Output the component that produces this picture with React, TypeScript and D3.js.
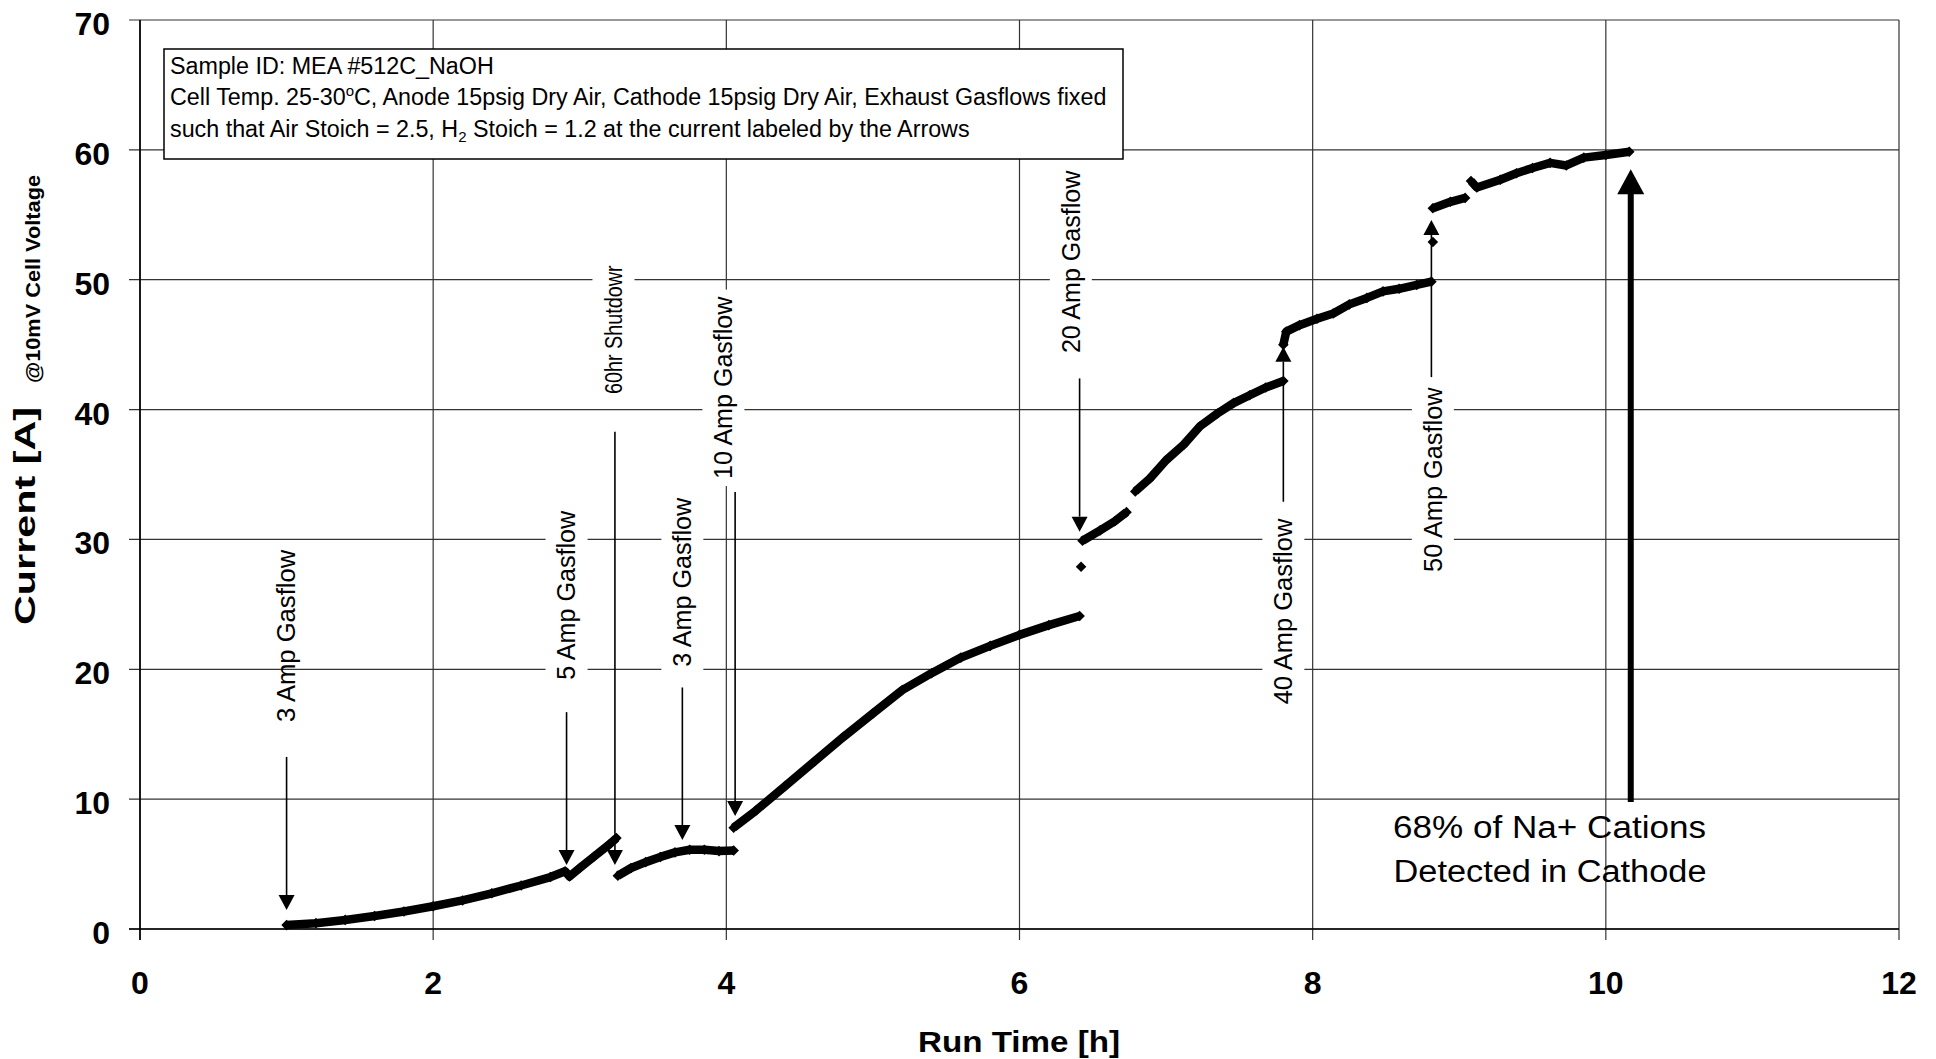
import React from 'react';
import * as d3 from 'd3';

const W = 1936;
const H = 1059;

const xTicks = [0, 2, 4, 6, 8, 10, 12];
const yTicks = [0, 10, 20, 30, 40, 50, 60, 70];

// Run time [h], current [A], one array per continuous run
const seg1: [number, number][] = [
  [1.0, 0.3], [1.2, 0.45], [1.4, 0.7], [1.6, 1.0], [1.8, 1.35], [2.0, 1.75], [2.2, 2.2],
  [2.4, 2.75], [2.6, 3.35], [2.8, 4.0], [2.9, 4.45], [2.93, 4.05], [3.0, 4.7], [3.1, 5.6],
  [3.2, 6.5], [3.25, 7.0],
];
const seg2: [number, number][] = [
  [3.26, 4.1], [3.35, 4.7], [3.45, 5.15], [3.55, 5.55], [3.65, 5.9], [3.75, 6.1], [3.85, 6.1],
  [3.95, 6.0], [4.05, 6.05],
];
const seg3: [number, number][] = [
  [4.05, 7.8], [4.2, 9.1], [4.4, 11.0], [4.6, 12.9], [4.8, 14.8], [5.0, 16.6], [5.2, 18.4],
  [5.4, 19.7], [5.6, 20.9], [5.8, 21.8], [6.0, 22.65], [6.2, 23.4], [6.41, 24.1],
];
const seg4: [number, number][] = [[6.43, 29.9], [6.55, 30.7], [6.65, 31.4], [6.73, 32.1]];
const seg5: [number, number][] = [
  [6.79, 33.7], [6.89, 34.7], [7.0, 36.1], [7.12, 37.3], [7.23, 38.7], [7.35, 39.7],
  [7.46, 40.5], [7.57, 41.1], [7.68, 41.7], [7.8, 42.2],
];
const seg6: [number, number][] = [
  [7.8, 45.0], [7.82, 46.0], [7.91, 46.5], [8.03, 47.0], [8.14, 47.4], [8.25, 48.1],
  [8.37, 48.6], [8.48, 49.1], [8.59, 49.3], [8.71, 49.6], [8.81, 49.85],
];
const seg7: [number, number][] = [[8.82, 55.5], [8.94, 56.0], [9.04, 56.3]];
const seg8: [number, number][] = [
  [9.08, 57.6], [9.12, 57.1], [9.28, 57.7], [9.39, 58.2], [9.5, 58.6], [9.62, 59.0],
  [9.73, 58.8], [9.85, 59.4], [10.0, 59.6], [10.16, 59.85],
];
const singlePoints: [number, number][] = [[6.42, 27.9], [8.82, 52.9]];
const segments = [seg1, seg2, seg3, seg4, seg5, seg6, seg7, seg8];

// Gasflow annotations: arrow at time t from current `from` to current `to`
const annLabels = ['3 Amp Gasflow', '5 Amp Gasflow', '60hr Shutdowr', '3 Amp Gasflow', '10 Amp Gasflow', '20 Amp Gasflow', '40 Amp Gasflow', '50 Amp Gasflow'];
const annT = [1.0, 2.91, 3.24, 3.7, 4.06, 6.41, 7.8, 8.81];
const annFrom = [13.25, 16.7, 38.3, 18.6, 33.65, 42.4, 32.9, 42.5];
const annTo = [1.46, 4.93, 4.93, 6.85, 8.7, 30.6, 44.84, 54.6];
const annLabelT = [1.0, 2.91, 3.23, 3.7, 3.98, 6.35, 7.8, 8.82];
const annLabelBottom = [15.94, 19.2, 41.2, 20.2, 34.65, 44.35, 17.3, 27.5];
const annLabelTop = [29.2, 32.2, 51.1, 33.2, 48.7, 58.4, 31.6, 41.7];
const annBoxed = [false, true, true, true, true, true, true, true];
const annFontSize = [25, 25, 23.5, 25, 25, 25, 25, 25];

const bigArrowT = 10.17;
const bigArrowFrom = 9.78;
const bigArrowTo = 58.5;
const bigText = ['68% of Na+ Cations', 'Detected in Cathode'];

const FONT = '"Liberation Sans", Arial, sans-serif';

export default function App() {
  const x = d3.scaleLinear().domain([0, 12]).range([140, 1899]);
  const y = d3.scaleLinear().domain([0, 70]).range([929, 20]);
  const line = d3.line<[number, number]>().x(d => x(d[0])).y(d => y(d[1]));
  const diamond = d3.symbol().type(d3.symbolSquare).size(56)();

  const allPts = [...segments.flat(), ...singlePoints];

  return (
    <svg width={W} height={H} style={{ position: 'absolute', left: 0, top: 0, background: '#fff' }}
      fontFamily={FONT}>
      <rect x={0} y={0} width={W} height={H} fill="#fff" />
      {/* gridlines */}
      {xTicks.map(t => (
        <line key={'gx' + t} x1={x(t)} x2={x(t)} y1={y(70)} y2={y(0) + 11} stroke="#333" strokeWidth={1.2} />
      ))}
      {yTicks.map(v => (
        <line key={'gy' + v} x1={x(0) - 11} x2={x(12)} y1={y(v)} y2={y(v)} stroke="#333" strokeWidth={1.2} />
      ))}
      <line x1={x(0)} x2={x(0)} y1={y(70)} y2={y(0) + 11} stroke="#000" strokeWidth={1.6} />
      <line x1={x(0) - 11} x2={x(12)} y1={y(0)} y2={y(0)} stroke="#000" strokeWidth={1.6} />

      {/* tick labels */}
      {yTicks.map(v => (
        <text key={'ty' + v} x={110} y={y(v) + 15} textAnchor="end" fontSize={32} fontWeight="bold">{v}</text>
      ))}
      {xTicks.map(t => (
        <text key={'tx' + t} x={x(t)} y={994} textAnchor="middle" fontSize={32} fontWeight="bold">{t}</text>
      ))}

      {/* axis titles */}
      <text x={1019} y={1052} textAnchor="middle" fontSize={30} fontWeight="bold" textLength={202} lengthAdjust="spacingAndGlyphs">Run Time [h]</text>
      <text transform="translate(35,516) rotate(-90)" textAnchor="middle" fontSize={30} fontWeight="bold" textLength={218} lengthAdjust="spacingAndGlyphs">Current [A]</text>
      <text transform="translate(40,279) rotate(-90)" textAnchor="middle" fontSize={20} fontWeight="bold" textLength={208} lengthAdjust="spacingAndGlyphs">@10mV Cell Voltage</text>

      {/* header box */}
      <rect x={164} y={49} width={959} height={110} fill="#fff" stroke="#000" strokeWidth={1.5} />
      <text x={170} y={74} fontSize={23.3}>Sample ID: MEA #512C_NaOH</text>
      <text x={170} y={105} fontSize={23.3}>
        Cell Temp. 25-30<tspan fontSize={15} dy={-9}>o</tspan><tspan dy={9}>C, Anode 15psig Dry Air, Cathode 15psig Dry Air, Exhaust Gasflows fixed</tspan>
      </text>
      <text x={170} y={137} fontSize={23.3}>
        such that Air Stoich = 2.5, H<tspan fontSize={15} dy={5}>2</tspan><tspan dy={-5}> Stoich = 1.2 at the current labeled by the Arrows</tspan>
      </text>

      {/* data */}
      {segments.map((s, i) => (
        <path key={'s' + i} d={line(s) || ''} fill="none" stroke="#000" strokeWidth={8.5} strokeLinejoin="round" />
      ))}
      {allPts.map((p, i) => (
        <path key={'p' + i} d={diamond || ''} transform={`translate(${x(p[0])},${y(p[1])}) rotate(45)`} fill="#000" />
      ))}

      {/* annotations */}
      {annLabels.map((lab, i) => {
        const ax = x(annT[i]);
        const y1 = y(annFrom[i]);
        const y2 = y(annTo[i]);
        const dir = y2 > y1 ? 1 : -1;
        const base = y2 - dir * 15;
        const lx = x(annLabelT[i]);
        const lb = y(annLabelBottom[i]);
        const lt = y(annLabelTop[i]);
        return (
          <g key={'a' + i}>
            {annBoxed[i] && <rect x={lx - 21} y={lt - 7} width={42} height={lb - lt + 14} fill="#fff" />}
            <text transform={`translate(${lx},${lb}) rotate(-90)`} dy="0.35em" fontSize={annFontSize[i]}
              textLength={lb - lt} lengthAdjust="spacingAndGlyphs">{lab}</text>
            <line x1={ax} x2={ax} y1={y1} y2={base} stroke="#000" strokeWidth={1.6} />
            <path d={`M${ax},${y2} L${ax - 8},${base} L${ax + 8},${base} Z`} fill="#000" />
          </g>
        );
      })}

      {/* big arrow */}
      <line x1={x(bigArrowT)} x2={x(bigArrowT)} y1={y(bigArrowFrom)} y2={y(bigArrowTo) + 24} stroke="#000" strokeWidth={6} />
      <path d={`M${x(bigArrowT)},${y(bigArrowTo)} L${x(bigArrowT) - 13.5},${y(bigArrowTo) + 25} L${x(bigArrowT) + 13.5},${y(bigArrowTo) + 25} Z`} fill="#000" />
      <text x={1549.5} y={838} textAnchor="middle" fontSize={31} textLength={313} lengthAdjust="spacingAndGlyphs">{bigText[0]}</text>
      <text x={1550} y={882} textAnchor="middle" fontSize={31} textLength={313} lengthAdjust="spacingAndGlyphs">{bigText[1]}</text>
    </svg>
  );
}
